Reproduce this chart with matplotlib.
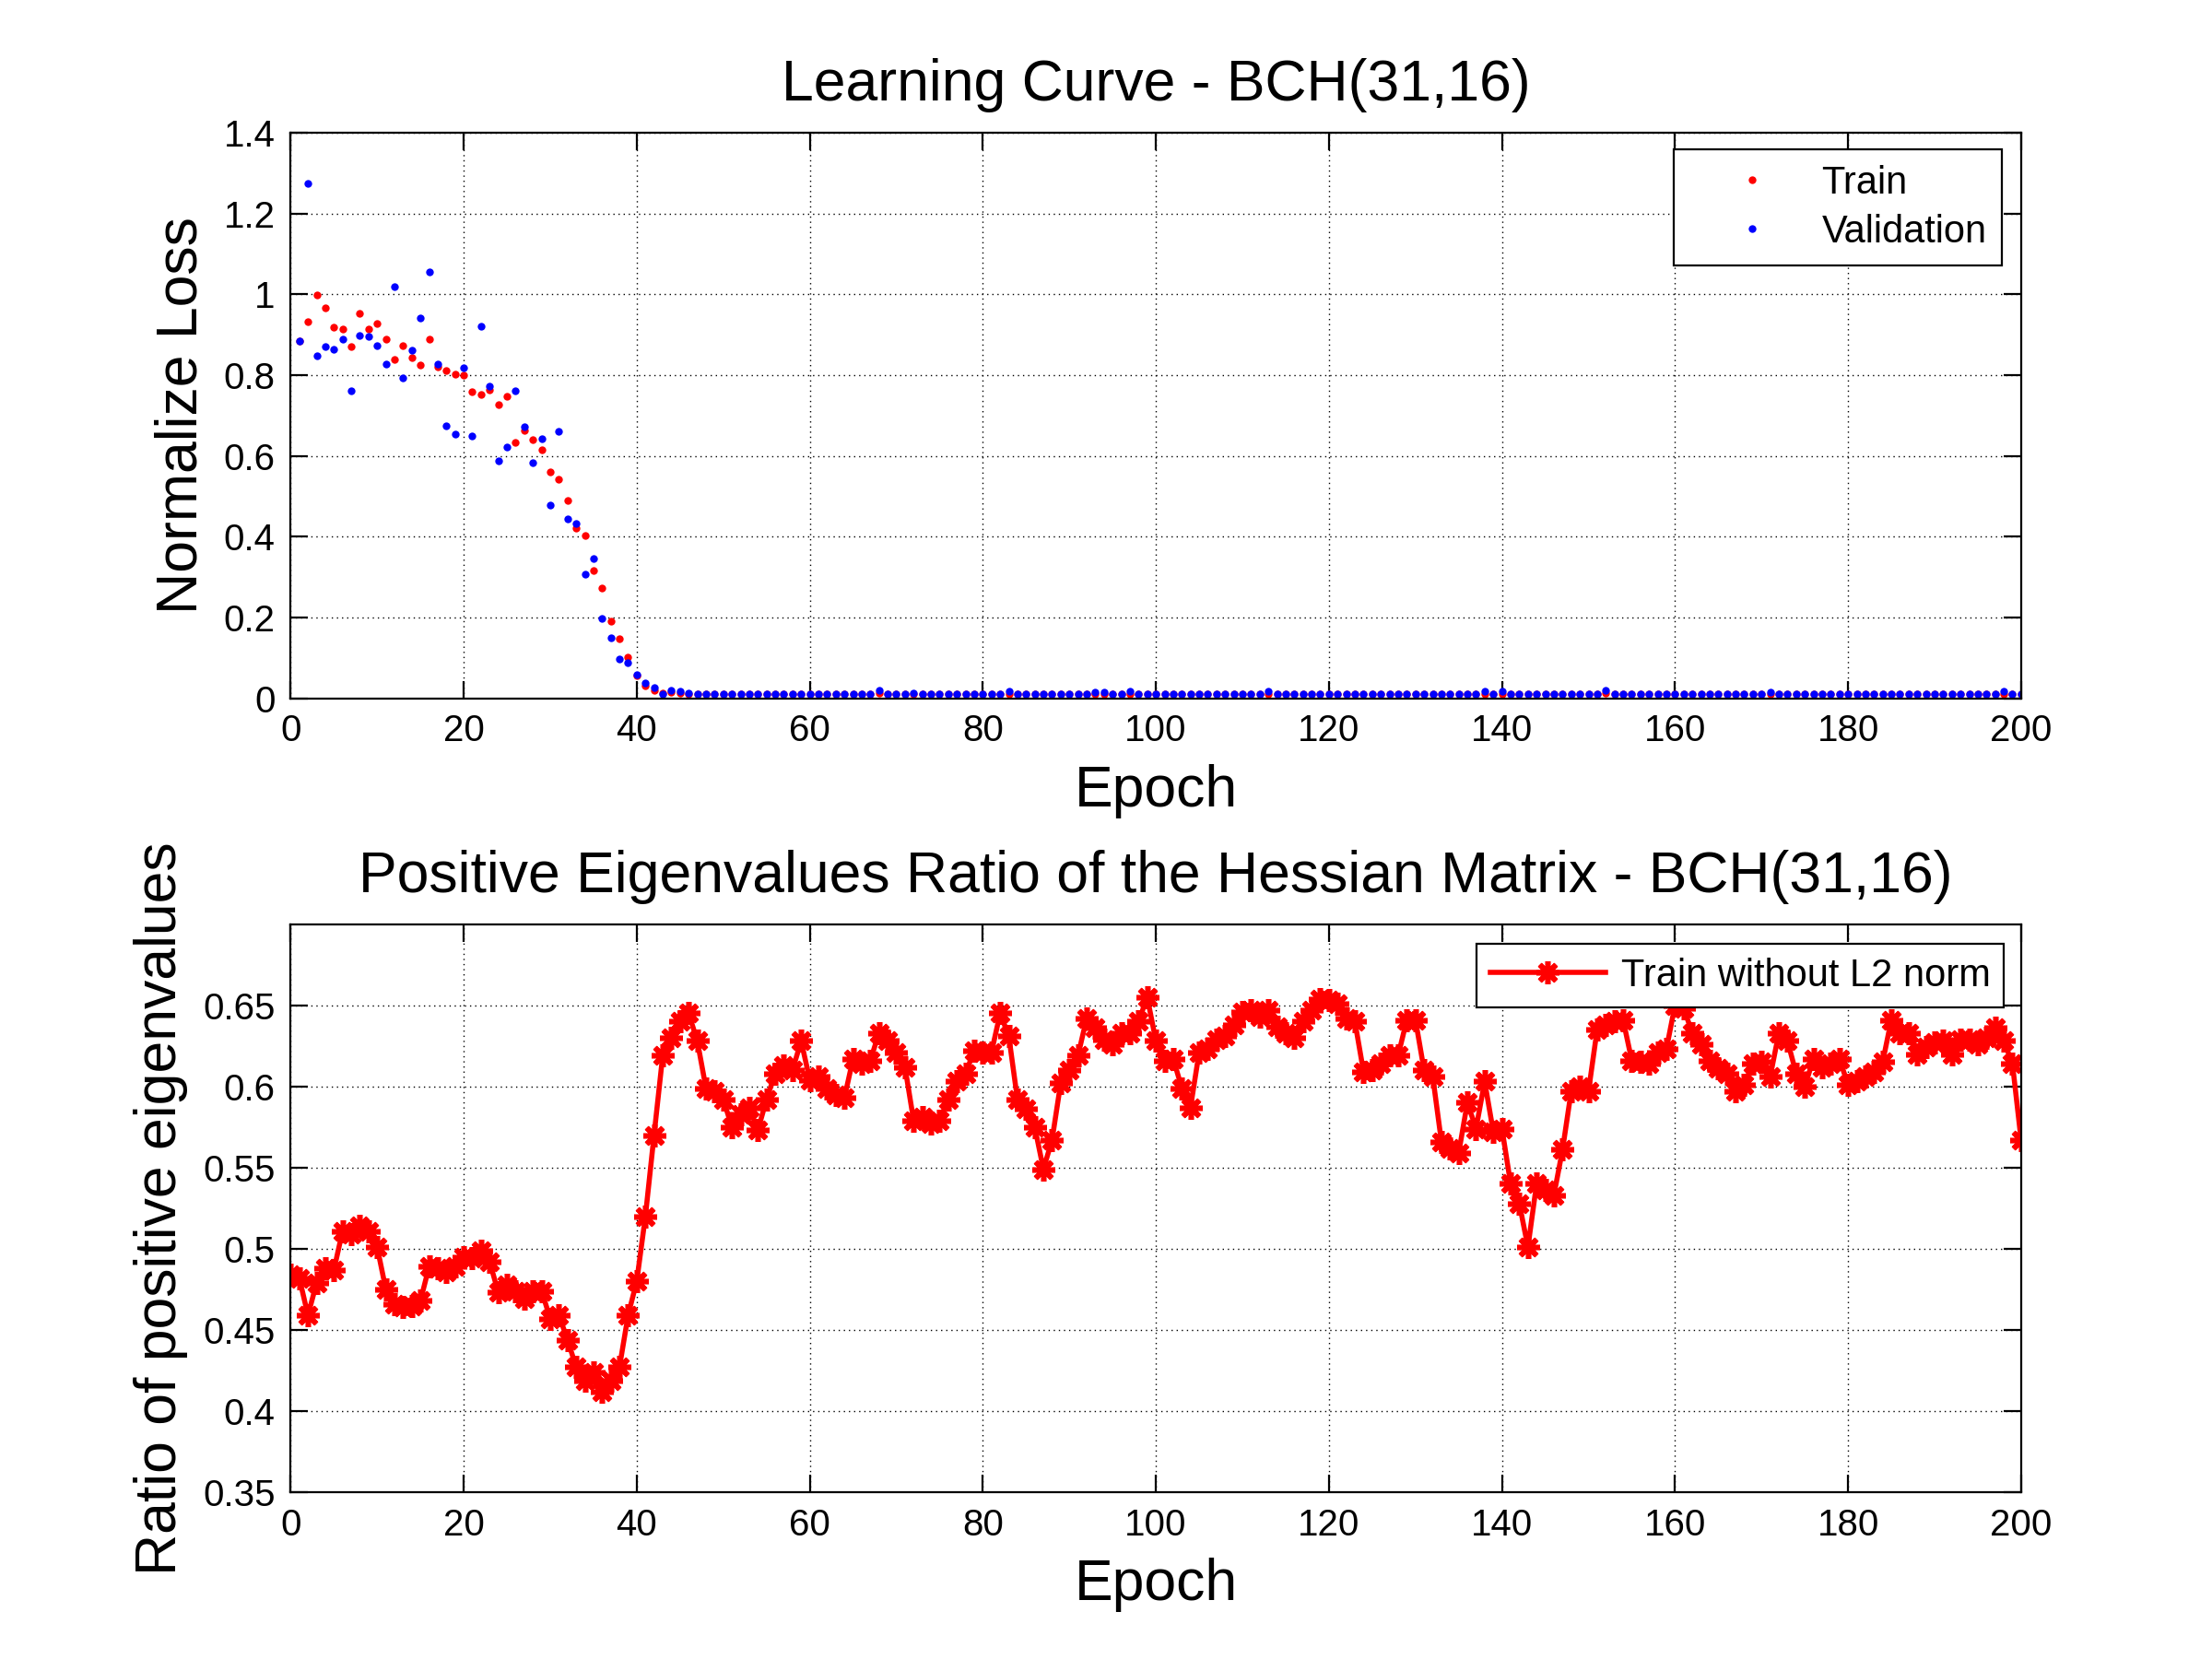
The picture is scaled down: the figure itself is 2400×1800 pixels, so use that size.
import matplotlib
matplotlib.use('Agg')
import matplotlib.pyplot as plt
from matplotlib.ticker import FuncFormatter

plt.rcParams['font.family'] = ['Liberation Sans', 'DejaVu Sans']

# ---- top plot: normalized loss per epoch ----
loss_epochs = list(range(1, 201))

train_loss = [
    0.884, 0.932, 0.999, 0.966, 0.918, 0.915, 0.870, 0.953, 0.914, 0.928,
    0.890, 0.838, 0.874, 0.844, 0.826, 0.888, 0.821, 0.812, 0.803, 0.801,
    0.760, 0.752, 0.764, 0.727, 0.748, 0.633, 0.663, 0.640, 0.615, 0.560,
    0.543, 0.490, 0.421, 0.403, 0.317, 0.274, 0.192, 0.147, 0.102, 0.056,
    0.032, 0.021, 0.014,
    0.015, 0.013, 0.012, 0.011, 0.011, 0.010, 0.011, 0.010, 0.010, 0.011,
    0.010, 0.011, 0.010, 0.010, 0.011, 0.010, 0.010, 0.011, 0.010, 0.010,
    0.011, 0.010, 0.010, 0.012, 0.013, 0.010, 0.011, 0.010, 0.010, 0.011,
    0.010, 0.010, 0.011, 0.010, 0.010, 0.011, 0.010, 0.010, 0.011, 0.012,
    0.010, 0.010, 0.011, 0.010, 0.010, 0.011, 0.010, 0.010, 0.011, 0.012,
    0.012, 0.010, 0.010, 0.012, 0.011, 0.010, 0.011, 0.010, 0.010, 0.011,
    0.010, 0.010, 0.011, 0.010, 0.010, 0.011, 0.010, 0.010, 0.011, 0.012,
    0.010, 0.010, 0.011, 0.010, 0.010, 0.011, 0.010, 0.010, 0.011, 0.010,
    0.010, 0.011, 0.010, 0.010, 0.011, 0.010, 0.010, 0.011, 0.010, 0.010,
    0.011, 0.010, 0.010, 0.011, 0.012, 0.010, 0.012, 0.010, 0.011, 0.010,
    0.010, 0.011, 0.010, 0.010, 0.011, 0.010, 0.010, 0.011, 0.013, 0.010,
    0.010, 0.011, 0.010, 0.010, 0.011, 0.010, 0.010, 0.011, 0.010, 0.010,
    0.011, 0.010, 0.010, 0.011, 0.010, 0.010, 0.011, 0.012, 0.010, 0.011,
    0.010, 0.010, 0.011, 0.010, 0.010, 0.011, 0.010, 0.010, 0.011, 0.010,
    0.010, 0.011, 0.010, 0.010, 0.011, 0.010, 0.010, 0.011, 0.010, 0.010,
    0.011, 0.010, 0.010, 0.011, 0.012, 0.010, 0.011,
]

val_loss = [
    0.884, 1.274, 0.849, 0.870, 0.863, 0.890, 0.762, 0.898, 0.895, 0.874,
    0.828, 1.020, 0.793, 0.861, 0.941, 1.055, 0.828, 0.674, 0.655, 0.819,
    0.649, 0.920, 0.773, 0.589, 0.623, 0.762, 0.672, 0.584, 0.642, 0.479,
    0.660, 0.444, 0.432, 0.308, 0.347, 0.198, 0.149, 0.097, 0.088, 0.059,
    0.038, 0.027, 0.011,
    0.020, 0.018, 0.013, 0.012, 0.011, 0.012, 0.011, 0.011, 0.012, 0.011,
    0.011, 0.012, 0.011, 0.011, 0.012, 0.011, 0.011, 0.012, 0.011, 0.011,
    0.012, 0.011, 0.011, 0.012, 0.020, 0.011, 0.012, 0.011, 0.013, 0.011,
    0.011, 0.012, 0.011, 0.011, 0.012, 0.011, 0.012, 0.011, 0.011, 0.017,
    0.011, 0.012, 0.011, 0.011, 0.012, 0.011, 0.011, 0.012, 0.011, 0.016,
    0.016, 0.011, 0.012, 0.017, 0.011, 0.011, 0.012, 0.011, 0.011, 0.012,
    0.011, 0.011, 0.012, 0.011, 0.011, 0.012, 0.011, 0.011, 0.012, 0.017,
    0.011, 0.012, 0.011, 0.011, 0.012, 0.011, 0.011, 0.012, 0.011, 0.011,
    0.012, 0.011, 0.011, 0.012, 0.011, 0.011, 0.012, 0.011, 0.011, 0.012,
    0.011, 0.011, 0.012, 0.011, 0.017, 0.011, 0.017, 0.011, 0.012, 0.011,
    0.011, 0.012, 0.011, 0.011, 0.012, 0.011, 0.011, 0.012, 0.021, 0.011,
    0.011, 0.012, 0.011, 0.011, 0.012, 0.011, 0.011, 0.012, 0.011, 0.011,
    0.012, 0.011, 0.011, 0.012, 0.011, 0.011, 0.012, 0.016, 0.011, 0.011,
    0.012, 0.011, 0.011, 0.012, 0.011, 0.011, 0.012, 0.011, 0.011, 0.012,
    0.011, 0.011, 0.012, 0.011, 0.011, 0.012, 0.011, 0.011, 0.012, 0.011,
    0.011, 0.012, 0.011, 0.011, 0.017, 0.011, 0.011,
]

# ---- bottom plot: ratio of positive Hessian eigenvalues ----
ratio_epochs = list(range(0, 201))

pos_ratio = [
    0.484, 0.482, 0.459, 0.479, 0.488, 0.487, 0.511, 0.509, 0.514, 0.511,
    0.501, 0.475, 0.466, 0.464, 0.465, 0.468, 0.489, 0.488, 0.486, 0.489,
    0.495, 0.494, 0.499, 0.492, 0.473, 0.478, 0.474, 0.469, 0.474, 0.474,
    0.457, 0.459, 0.444, 0.427, 0.419, 0.424, 0.412, 0.419, 0.427, 0.459,
    0.480, 0.520, 0.570, 0.619, 0.630, 0.640, 0.645, 0.628, 0.599, 0.597,
    0.592, 0.575, 0.583, 0.587, 0.573, 0.592, 0.608, 0.613, 0.610, 0.628,
    0.604, 0.606, 0.599, 0.595, 0.593, 0.617, 0.614, 0.616, 0.633, 0.628,
    0.621, 0.612, 0.579, 0.581, 0.577, 0.579, 0.592, 0.603, 0.608, 0.622,
    0.621, 0.621, 0.645, 0.631, 0.592, 0.586, 0.575, 0.549, 0.567, 0.602,
    0.610, 0.619, 0.642, 0.636, 0.629, 0.626, 0.633, 0.633, 0.640, 0.655,
    0.628, 0.616, 0.617, 0.599, 0.587, 0.621, 0.623, 0.629, 0.631, 0.638,
    0.646, 0.647, 0.643, 0.647, 0.637, 0.633, 0.630, 0.640, 0.647, 0.654,
    0.653, 0.651, 0.642, 0.640, 0.609, 0.610, 0.614, 0.619, 0.619, 0.641,
    0.641, 0.610, 0.606, 0.566, 0.562, 0.559, 0.590, 0.574, 0.603, 0.572,
    0.574, 0.540, 0.528, 0.501, 0.540, 0.536, 0.533, 0.561, 0.597, 0.600,
    0.597, 0.635, 0.638, 0.640, 0.641, 0.616, 0.615, 0.614, 0.621, 0.623,
    0.650, 0.648, 0.633, 0.626, 0.616, 0.611, 0.608, 0.597, 0.601, 0.614,
    0.615, 0.606, 0.633, 0.628, 0.608, 0.600, 0.617, 0.612, 0.614, 0.617,
    0.601, 0.603, 0.606, 0.609, 0.615, 0.641, 0.633, 0.633, 0.620, 0.624,
    0.627, 0.628, 0.620, 0.629, 0.629, 0.626, 0.630, 0.636, 0.628, 0.614,
    0.567,
]

epoch_ticks = list(range(0, 201, 20))
loss_ticks = [0, 0.2, 0.4, 0.6, 0.8, 1.0, 1.2, 1.4]
ratio_ticks = [0.35, 0.4, 0.45, 0.5, 0.55, 0.6, 0.65]

TICK_FS = 14.5
LEG_FS = 15
LABEL_FS = 22.5
fmt = FuncFormatter(lambda v, _: f'{v:g}')


def style_axes(ax):
    # matlab-ish look: box, inward ticks on all sides, sparse dotted grid
    ax.set_axisbelow(True)
    ax.grid(True, linestyle=(0, (1, 3)), color='k', linewidth=0.5)
    ax.tick_params(direction='in', top=True, right=True, length=6.7,
                   width=0.8, labelsize=TICK_FS, pad=6)
    for sp in ax.spines.values():
        sp.set_linewidth(0.8)
    ax.yaxis.set_major_formatter(fmt)


fig = plt.figure(figsize=(12, 9), dpi=200)

# top: learning curve
ax1 = fig.add_axes([0.1314, 0.579, 0.7823, 0.341])
ax1.plot(loss_epochs, train_loss, linestyle='none', marker='o', ms=3,
         mew=0, color=(1, 0, 0), label='Train')
ax1.plot(loss_epochs, val_loss, linestyle='none', marker='o', ms=3,
         mew=0, color=(0, 0, 1), label='Validation')
ax1.set_xlim(0, 200)
ax1.set_ylim(0, 1.4)
ax1.set_xticks(epoch_ticks)
ax1.set_yticks(loss_ticks)
style_axes(ax1)
ax1.set_title('Learning Curve - BCH(31,16)', fontsize=LABEL_FS, pad=12.5)
ax1.set_xlabel('Epoch', fontsize=LABEL_FS, labelpad=6)
ax1.set_ylabel('Normalize Loss', fontsize=LABEL_FS, labelpad=6)
leg1 = ax1.legend(loc='upper right', bbox_to_anchor=(0.989, 0.970),
                  borderaxespad=0, fontsize=LEG_FS, fancybox=False,
                  edgecolor='k', framealpha=1, handlelength=3.3,
                  handletextpad=0.15, borderpad=0.4, labelspacing=0.3)
leg1.get_frame().set_linewidth(0.8)

# bottom: positive eigenvalue ratio
ax2 = fig.add_axes([0.1314, 0.1005, 0.7823, 0.3425])
ax2.plot(ratio_epochs, pos_ratio, color=(1, 0, 0), linewidth=2.0,
         marker=(8, 2, 0), ms=9, mew=2.0, label='Train without L2 norm')
ax2.set_xlim(0, 200)
ax2.set_ylim(0.35, 0.7)
ax2.set_xticks(epoch_ticks)
ax2.set_yticks(ratio_ticks)
style_axes(ax2)
ax2.set_title('Positive Eigenvalues Ratio of the Hessian Matrix - BCH(31,16)',
              fontsize=LABEL_FS, pad=12.5)
ax2.set_xlabel('Epoch', fontsize=LABEL_FS, labelpad=6)
ax2.set_ylabel('Ratio of positive eigenvalues', fontsize=LABEL_FS, labelpad=6)
leg2 = ax2.legend(loc='upper right', bbox_to_anchor=(0.990, 0.965),
                  borderaxespad=0, fontsize=LEG_FS, fancybox=False,
                  edgecolor='k', framealpha=1, handlelength=3.0,
                  handletextpad=0.4, borderpad=0.35)
leg2.get_frame().set_linewidth(0.8)

fig.savefig('out.png', dpi=200)
